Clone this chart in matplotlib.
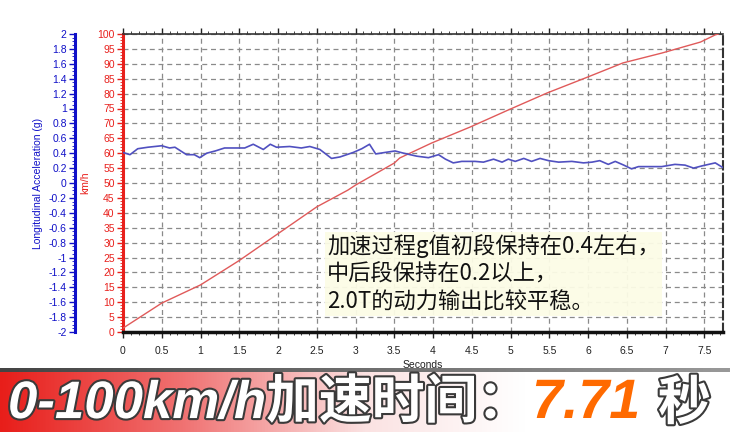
import numpy as np
import matplotlib
matplotlib.use("Agg")
import matplotlib.pyplot as plt
import matplotlib.patheffects as pe
from matplotlib.ticker import MultipleLocator
from matplotlib.colors import LinearSegmentedColormap

plt.rcParams['font.family'] = ['Liberation Sans', 'Noto Sans CJK SC', 'DejaVu Sans']

# ---------------- data ----------------
speed_t = [0.0, 0.5, 1.0, 1.5, 2.0, 2.5, 2.9, 3.0, 3.5, 3.57, 3.98, 4.48, 4.97, 5.47, 5.96, 6.45, 6.95, 7.45, 7.64, 7.68]
speed_kmh = [1.3, 9.7, 15.8, 24.0, 33.0, 42.0, 47.6, 49.3, 56.7, 58.4, 63.4, 68.8, 74.5, 80.2, 85.2, 90.3, 93.6, 97.3, 99.7, 100.0]

accel_t = [0.0, 0.09, 0.19, 0.32, 0.50, 0.60, 0.67, 0.82, 0.92, 0.99, 1.08, 1.19, 1.31, 1.48, 1.57,
           1.68, 1.81, 1.90, 1.98, 2.15, 2.30, 2.41, 2.54, 2.69, 2.80, 2.97, 3.08, 3.18, 3.26, 3.38,
           3.51, 3.62, 3.79, 3.94, 4.07, 4.16, 4.26, 4.37, 4.54, 4.65, 4.78, 4.89, 4.97, 5.06, 5.17,
           5.27, 5.38, 5.49, 5.62, 5.79, 5.94, 6.05, 6.15, 6.26, 6.35, 6.46, 6.56, 6.65, 6.95, 7.12,
           7.25, 7.36, 7.47, 7.64, 7.75]
accel_g = [0.41, 0.38, 0.46, 0.48, 0.50, 0.47, 0.48, 0.38, 0.38, 0.34, 0.40, 0.43, 0.47, 0.47, 0.47,
           0.52, 0.45, 0.52, 0.48, 0.49, 0.47, 0.49, 0.45, 0.33, 0.35, 0.41, 0.46, 0.52, 0.39, 0.41,
           0.43, 0.40, 0.36, 0.34, 0.38, 0.32, 0.27, 0.29, 0.29, 0.28, 0.32, 0.28, 0.32, 0.29, 0.33,
           0.29, 0.33, 0.30, 0.28, 0.29, 0.27, 0.28, 0.30, 0.25, 0.29, 0.24, 0.19, 0.22, 0.22, 0.25,
           0.24, 0.20, 0.23, 0.27, 0.20]

x_ticks = [0, 0.5, 1, 1.5, 2, 2.5, 3, 3.5, 4, 4.5, 5, 5.5, 6, 6.5, 7, 7.5]
speed_ticks = list(range(0, 101, 5))
g_ticks = [round(-2 + 0.2 * i, 1) for i in range(21)]

title_main = "0-100km/h加速时间："
title_value = "7.71"
title_unit = "秒"
note_text = "加速过程g值初段保持在0.4左右，\n中后段保持在0.2以上，\n2.0T的动力输出比较平稳。"

# ---------------- figure ----------------
W, H = 730, 432
fig = plt.figure(figsize=(W / 100, H / 100), dpi=100)
fig.patch.set_facecolor('white')

left, right, top, bottom = 123, 723, 34, 332
ax = fig.add_axes([left / W, 1 - bottom / H, (right - left) / W, (bottom - top) / H])
ax.set_xlim(0, 7.74)
ax.set_ylim(0, 100)

tick_fs = 7.5
red = '#E8201C'
blue = '#1010C8'

ax.grid(True, which='major', color='#8a8a8a', linestyle=(0, (4, 3)), linewidth=0.9)
ax.set_xticks(x_ticks)
ax.set_xticklabels([('%g' % v) for v in x_ticks], fontsize=tick_fs, color='#222222')
ax.xaxis.set_minor_locator(MultipleLocator(0.1))
ax.set_yticks(speed_ticks)
ax.set_yticklabels([str(v) for v in speed_ticks], fontsize=tick_fs, color=red)
ax.yaxis.set_minor_locator(MultipleLocator(1))
ax.tick_params(axis='y', which='major', colors=red, length=4, width=1, pad=2, labelcolor=red)
ax.tick_params(axis='y', which='minor', colors=red, length=2)
ax.tick_params(axis='x', which='major', length=4, width=1, pad=6, top=True, color='#222222')
ax.tick_params(axis='x', which='minor', length=2, top=True, color='#222222')
ax.set_xlabel('Seconds', fontsize=7.5, color='#222222', labelpad=3)
ax.set_ylabel('km/h', fontsize=7.5, color=red, labelpad=5)

ax.spines['left'].set_color(red)
ax.spines['left'].set_linewidth(2.2)
ax.spines['bottom'].set_color('#111111')
ax.spines['bottom'].set_linewidth(2.5)
ax.spines['top'].set_color('#333333')
ax.spines['top'].set_linewidth(1.2)
ax.spines['right'].set_color('#333333')
ax.spines['right'].set_linestyle((0, (4, 2)))
ax.spines['right'].set_linewidth(1.5)

ax.plot(speed_t, speed_kmh, color='#E05A5A', linewidth=1.0, zorder=3)

# acceleration axis
ax2 = ax.twinx()
ax2.set_ylim(-2, 2)
ax2.spines['right'].set_visible(False)
ax2.spines['top'].set_visible(False)
ax2.spines['bottom'].set_visible(False)
ax2.spines['left'].set_visible(True)
ax2.spines['left'].set_position(('outward', 34.5))
ax2.spines['left'].set_color(blue)
ax2.spines['left'].set_linewidth(2.2)
ax2.yaxis.set_ticks_position('left')
ax2.yaxis.set_label_position('left')
ax2.set_yticks(g_ticks)
ax2.set_yticklabels([('%g' % v) for v in g_ticks], fontsize=tick_fs, color=blue)
ax2.yaxis.set_minor_locator(MultipleLocator(0.05))
ax2.tick_params(axis='y', which='major', colors=blue, length=4, width=1, pad=2, labelcolor=blue)
ax2.tick_params(axis='y', which='minor', colors=blue, length=2)
ax2.set_ylabel('Longitudinal Acceleration (g)', fontsize=7.5, color=blue, labelpad=4)
ax2.plot(accel_t, accel_g, color='#5050C0', linewidth=1.2, zorder=3)

# annotation box
fig.text(327 / W, 1 - 274 / H, note_text, fontsize=16, color='#111111',
         family=['Noto Sans CJK SC', 'DejaVu Sans'], va='center', ha='left', linespacing=1.25,
         bbox=dict(boxstyle='square,pad=0.1', facecolor='#FCFCE6', edgecolor='none', alpha=0.95),
         zorder=10)

# banner
bax = fig.add_axes([0, 0, 1, 60 / H])
cmap = LinearSegmentedColormap.from_list('banner', [(0, '#E81E1A'), (0.25, '#F07272'),
                                                    (0.5, '#FBE2E2'), (0.72, '#FFFFFF'), (1, '#FFFFFF')])
grad = np.linspace(0, 1, 512).reshape(1, -1)
bax.imshow(grad, aspect='auto', cmap=cmap, extent=[0, 1, 0, 1])
bax.set_xlim(0, 1)
bax.set_ylim(0, 1)
bax.axis('off')
shadow = fig.add_axes([0, 60 / H, 1, 4 / H])
scmap = LinearSegmentedColormap.from_list('sh', [(0, '#444444'), (1, '#999999')])
shadow.imshow(np.linspace(0, 1, 256).reshape(1, -1), aspect='auto', cmap=scmap, extent=[0, 1, 0, 1])
shadow.axis('off')

stroke = [pe.withStroke(linewidth=3, foreground='#3a3a3a')]
ty = 1 - 404 / H
fig.text(8 / W, ty, title_main, fontsize=38, fontweight='bold', style='italic', color='white',
         family=['Liberation Sans', 'Noto Sans CJK SC'], va='center', ha='left', path_effects=stroke)
fig.text(532 / W, ty, title_value, fontsize=40, fontweight='bold', style='italic', color='#FF6A00',
         family=['Liberation Sans'], va='center', ha='left',
         path_effects=[pe.withStroke(linewidth=3, foreground='white')])
fig.text(658 / W, ty, title_unit, fontsize=38, fontweight='bold', color='white',
         family=['Noto Sans CJK SC'], va='center', ha='left', path_effects=stroke)

fig.savefig('out.png', dpi=100)
